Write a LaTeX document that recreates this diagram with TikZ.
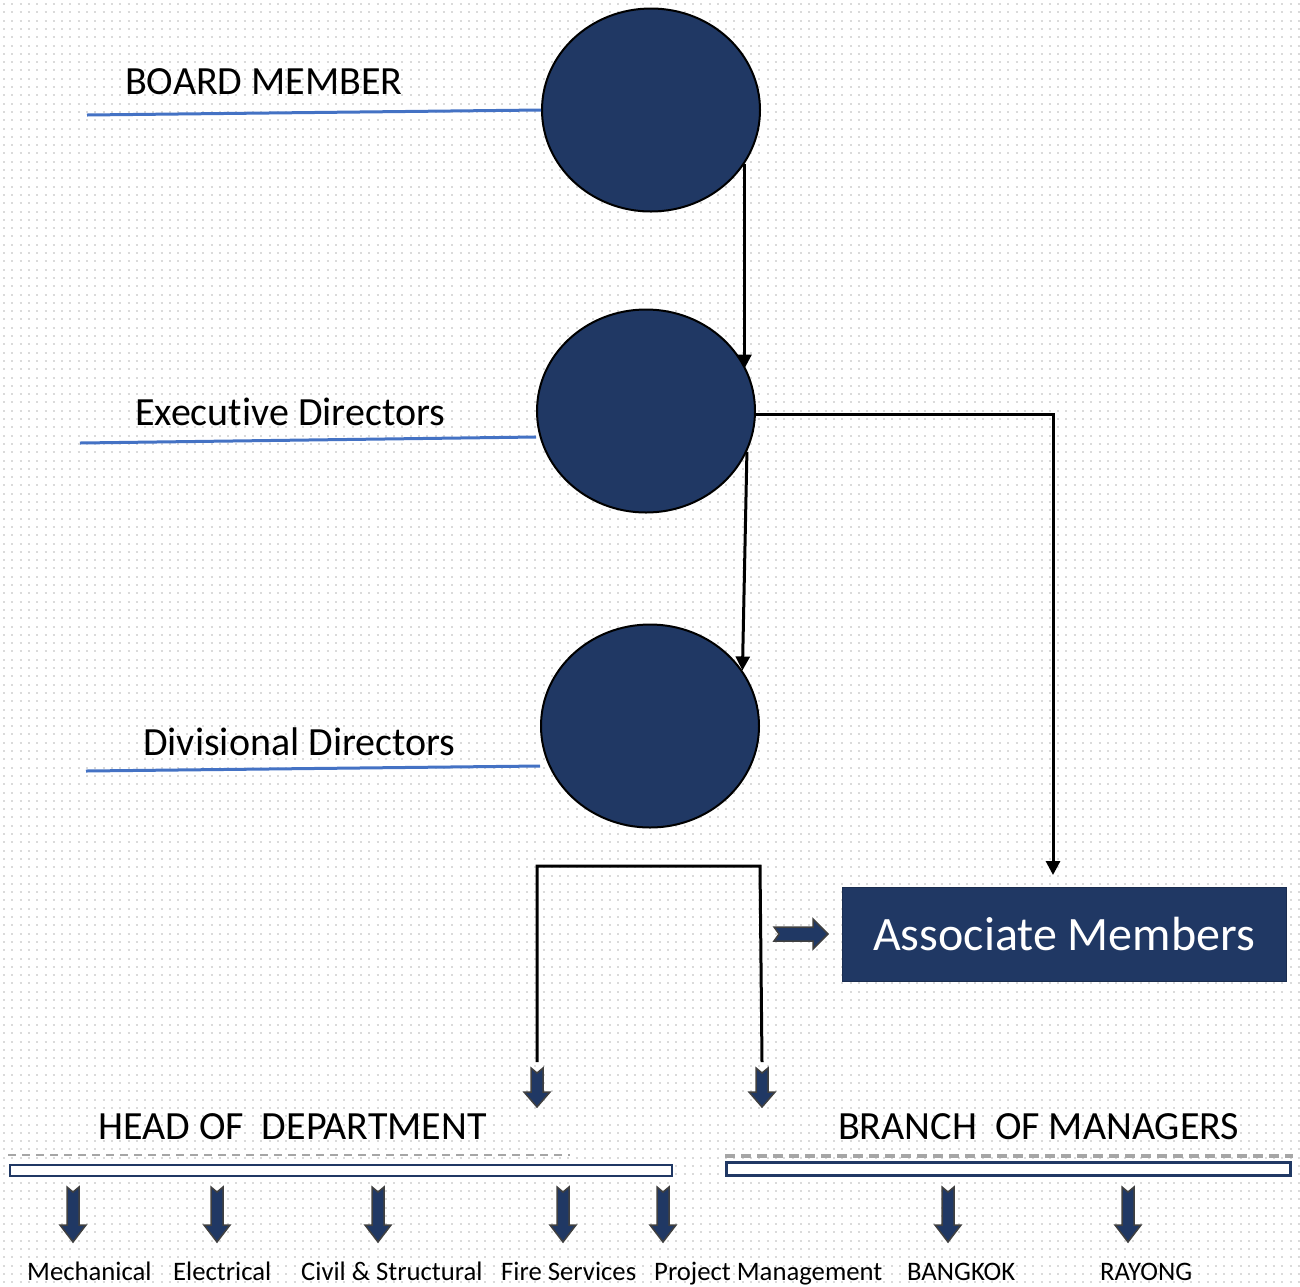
\documentclass[tikz,border=0pt]{standalone}
\usepackage{fontspec}
\setmainfont[Ligatures=NoCommon]{Carlito}
\usetikzlibrary{shapes.geometric,arrows.meta}
\definecolor{navy}{HTML}{203864}
\definecolor{lblue}{HTML}{4472C4}
\definecolor{dotc}{HTML}{DADADA}
\definecolor{dgray}{HTML}{404040}
\definecolor{dashc}{HTML}{A6A6A6}
\tikzset{
  circ/.style={ellipse,fill=navy,draw=black,line width=2pt,minimum width=218pt,minimum height=203pt,inner sep=0pt},
  blueline/.style={draw=lblue,line width=3pt},
  conn/.style={draw=black,line width=3pt},
  connarr/.style={conn,-{Triangle[length=14pt,width=14pt]}},
  lbl/.style={font=\fontsize{40}{48}\selectfont,inner sep=0pt,anchor=west},
  small/.style={font=\fontsize{26.7}{32}\selectfont,inner sep=0pt,anchor=base west},
  blockarr/.style={fill=navy,draw=dgray,line width=1.5pt,line join=miter},
}
\newcommand\dnarrow[5]{% name, x, ytop, length, headlen
  \coordinate (#1) at (#2,#3);
  \draw[blockarr] (#2-6,#3) -- (#2,#3+5) -- (#2+6,#3) -- (#2+6,#3+#4-#5) -- (#2+13,#3+#4-#5)
    -- (#2,#3+#4) -- (#2-13,#3+#4-#5) -- (#2-6,#3+#4-#5) -- cycle;}
\begin{document}
\begin{tikzpicture}[x=1pt,y=-1pt]
\useasboundingbox (0,0) rectangle (1300,1286);
% dotted background
\foreach \yy in {4,12.3,...,1286}
  \draw[dotc,line width=2pt,dash pattern=on 2pt off 6.3pt] (3,\yy) -- (1300,\yy);
% circles
\node[circ] (bm) at (651,110) {};
\node[circ] (ed) at (646,411) {};
\node[circ] (dd) at (650,726) {};
% labels
\node[lbl] (bml) at (125,82) {BOARD MEMBER};
\node[lbl] (edl) at (135,412) {Execu\kern0pt tive Directors};
\node[lbl] (ddl) at (143,742) {Divisional Directors};
\coordinate (bmls) at (87,115);
\coordinate (edls) at (80,443);
\coordinate (ddls) at (86,771);
\draw[blueline] (bmls) -- (bm.west);
\draw[blueline] (edls) -- ([yshift=-26pt]ed.west);
\draw[blueline] (ddls) -- ([yshift=-40pt]dd.west);
% connectors
\draw[connarr] (bm.-30) -- (bm.-30 |- ed.23);
\draw[connarr] (ed.-22) -- (dd.31);
% associate members
\node[fill=navy,draw=navy!80!black,line width=1pt,minimum width=444pt,minimum height=94pt,inner sep=0pt,
      text=white,font=\fontsize{48}{57}\selectfont] (am) at (1064,934) {Associate Members};
\coordinate (amtop) at (1053,875);
\draw[connarr] (ed.-2) -| (amtop);
% right block arrow
\coordinate (ra) at (774,934);
\draw[blockarr] (774,927) -- (779,934) -- (774,941) -- (813,941) -- (813,949) -- (828,934) -- (813,919) -- (813,927) -- cycle;
% divisional branches
\dnarrow{ha}{537}{1068}{39}{15}
\dnarrow{hb}{762}{1068}{39}{15}
\coordinate (j1) at (537,866);
\coordinate (j2) at (760,866);
\draw[conn] ([yshift=6pt]ha) -- (j1) -- (j2) -- ([yshift=6pt]hb);
% headings
\node[lbl] (hod) at (98,1127) {HEAD OF\ \ DEPARTMENT};
\node[lbl] (bom) at (838,1127) {BRANCH\ \ OF MANAGERS};
\draw[dashc,line width=1.5pt,dash pattern=on 8pt off 6pt] (8,1155) -- (570,1155);
\draw[dashc,line width=3.5pt,dash pattern=on 10pt off 6pt] (725,1156) -- (1293,1156);
\draw[navy,line width=2.5pt,fill=white] (10,1165) rectangle (672,1176);
\draw[navy,line width=3pt,fill=white] (726,1162) rectangle (1290,1175);
% bottom arrows
\dnarrow{b1}{73}{1187}{55}{17}
\dnarrow{b2}{217}{1187}{55}{17}
\dnarrow{b3}{378}{1187}{55}{17}
\dnarrow{b4}{563}{1187}{55}{17}
\dnarrow{b5}{663}{1187}{55}{17}
\dnarrow{b6}{948}{1187}{55}{17}
\dnarrow{b7}{1128}{1187}{55}{17}
% bottom labels
\node[small] (t1) at (27,1280) {Mechanical};
\node[small] (t2) at (173,1280) {Electrical};
\node[small] (t3) at (301,1280) {Civil \& Structural};
\node[small] (t4) at (501,1280) {Fire Services};
\node[small] (t5) at (654,1280) {Project Management};
\node[small] (t6) at (907,1280) {BANGKOK};
\node[small] (t7) at (1100,1280) {RAYONG};
\end{tikzpicture}
\end{document}
